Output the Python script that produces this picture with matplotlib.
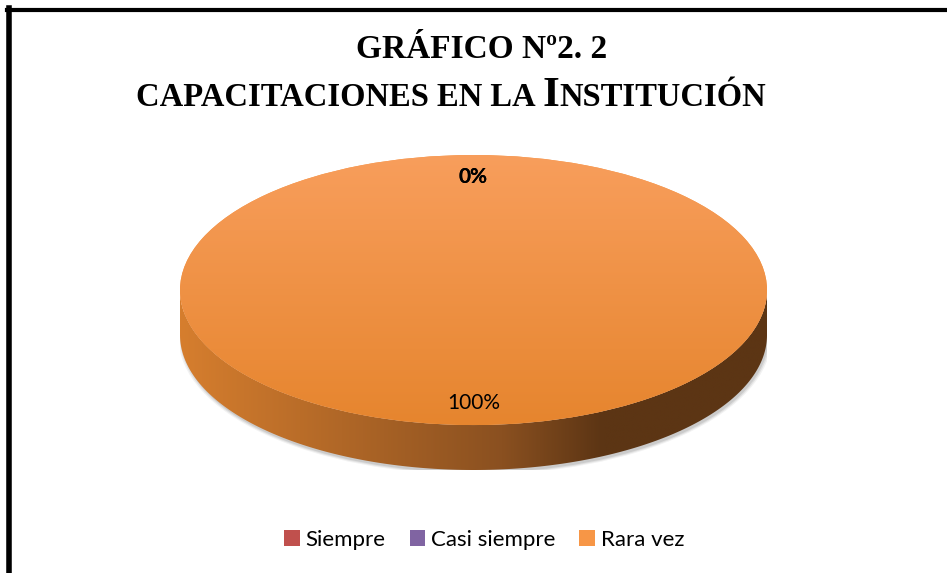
import numpy as np
import matplotlib.pyplot as plt
from matplotlib.lines import Line2D
from matplotlib.patches import Polygon, Ellipse

# Datos del gráfico
categorias = ['Siempre', 'Casi siempre', 'Rara vez']
porcentajes = [0, 0, 100]
colores = ['#C0504D', '#8064A2', '#F79646']

titulo_1 = 'GRÁFICO Nº2. 2'
titulo_2 = ['CAPACITACIONES EN LA ', 'I', 'NSTITUCIÓN']

W, H = 947, 573
fig = plt.figure(figsize=(W / 100, H / 100), dpi=100)
fig.patch.set_facecolor('white')

# Ejes del pastel: el circulo unidad se convierte en elipse
prof = 0.333  # grosor del disco
ax = fig.add_axes([180 / W, 1 - 470 / H, 587 / W, 315 / H])
ax.set_xlim(-1, 1)
ax.set_ylim(-1 - prof, 1)
ax.axis('off')

# Sombra suave
for k, a in enumerate([0.05, 0.07, 0.09]):
    sh = Ellipse((0.005, -prof - 0.02), 2.02 - k * 0.01, 2.03 - k * 0.015,
                 facecolor='#000000', alpha=a, lw=0, zorder=0)
    ax.add_patch(sh)

# Lateral del disco
t = np.linspace(np.pi, 2 * np.pi, 200)
xs = np.cos(t)
ys = np.sin(t)
verts = np.concatenate([np.column_stack([xs, ys]),
                        np.column_stack([xs[::-1], ys[::-1] - prof])])
lado = Polygon(verts, closed=True, facecolor='none', lw=0)
ax.add_patch(lado)
c_izq = np.array([0xD6, 0x7E, 0x2E]) / 255
c_med = np.array([0x8A, 0x50, 0x20]) / 255
c_der = np.array([0x5C, 0x35, 0x14]) / 255
gx = np.linspace(0, 1, 300)
grad = np.zeros((2, 300, 3))
for i, g in enumerate(gx):
    if g < 0.55:
        c = c_izq + (c_med - c_izq) * (g / 0.55)
    elif g < 0.72:
        c = c_med + (c_der - c_med) * ((g - 0.55) / 0.17)
    else:
        c = c_der
    grad[:, i, :] = c
im = ax.imshow(grad, extent=[-1, 1, -1 - prof, 0], aspect='auto', zorder=1,
               interpolation='bilinear')
im.set_clip_path(lado)

# Cara superior
wedges, textos, autotextos = ax.pie(
    porcentajes, colors=colores, startangle=90, counterclock=False,
    autopct='%1.0f%%', pctdistance=0.84, radius=1,
    wedgeprops=dict(linewidth=0),
    textprops=dict(fontsize=15, family='Lato', color='black'))
ax.set_aspect('auto')
ax.set_xlim(-1, 1)
ax.set_ylim(-1 - prof, 1)

c_arr = np.array([0xF8, 0x9E, 0x5C]) / 255
c_abj = np.array([0xE6, 0x85, 0x2E]) / 255
gy = np.linspace(0, 1, 200)
grad2 = np.zeros((200, 2, 3))
for i, g in enumerate(gy):
    grad2[i, :, :] = c_arr + (c_abj - c_arr) * g
for w in wedges:
    w.set_zorder(2)
im2 = ax.imshow(grad2, extent=[-1, 1, -1, 1], aspect='auto', zorder=3,
                origin='upper', interpolation='bilinear')
im2.set_clip_path(wedges[2])
for tx in autotextos:
    tx.set_zorder(5)
for tx, v in zip(autotextos, porcentajes):
    if v == 0:
        tx.set_fontweight('bold')
for tx in textos:
    tx.set_text('')

# Titulo
fig.text(482 / W, 1 - 50 / H, titulo_1, ha='center', va='center',
         fontsize=24, fontweight='bold', family='Liberation Serif')

fig.canvas.draw()
r = fig.canvas.get_renderer()
tamanos = [23.5, 31, 23.5]
partes = []
for s, fs in zip(titulo_2, tamanos):
    partes.append(fig.text(0, 1 - 106 / H, s, ha='left', va='baseline',
                           fontsize=fs, fontweight='bold',
                           family='Liberation Serif'))
anchos = [p.get_window_extent(r).width for p in partes]
x0 = 451 - sum(anchos) / 2
for p, a in zip(partes, anchos):
    p.set_x(x0 / W)
    x0 += a

# Leyenda
handles = [plt.Rectangle((0, 0), 1, 1, facecolor=c, edgecolor='none')
           for c in colores]
fig.legend(handles, categorias, loc='center', bbox_to_anchor=(484 / W, 1 - 540 / H),
           ncol=3, frameon=False, prop=dict(family='Lato', size=16),
           handlelength=0.7, handleheight=0.7, handletextpad=0.25,
           columnspacing=1.1)

# Borde del recuadro
fig.add_artist(Line2D([8.5 / W, 8.5 / W], [0, 1 - 8 / H], color='black', lw=4))
fig.add_artist(Line2D([6.5 / W, 1], [1 - 9.5 / H, 1 - 9.5 / H], color='black', lw=3))

fig.savefig('out.png', dpi=100)
